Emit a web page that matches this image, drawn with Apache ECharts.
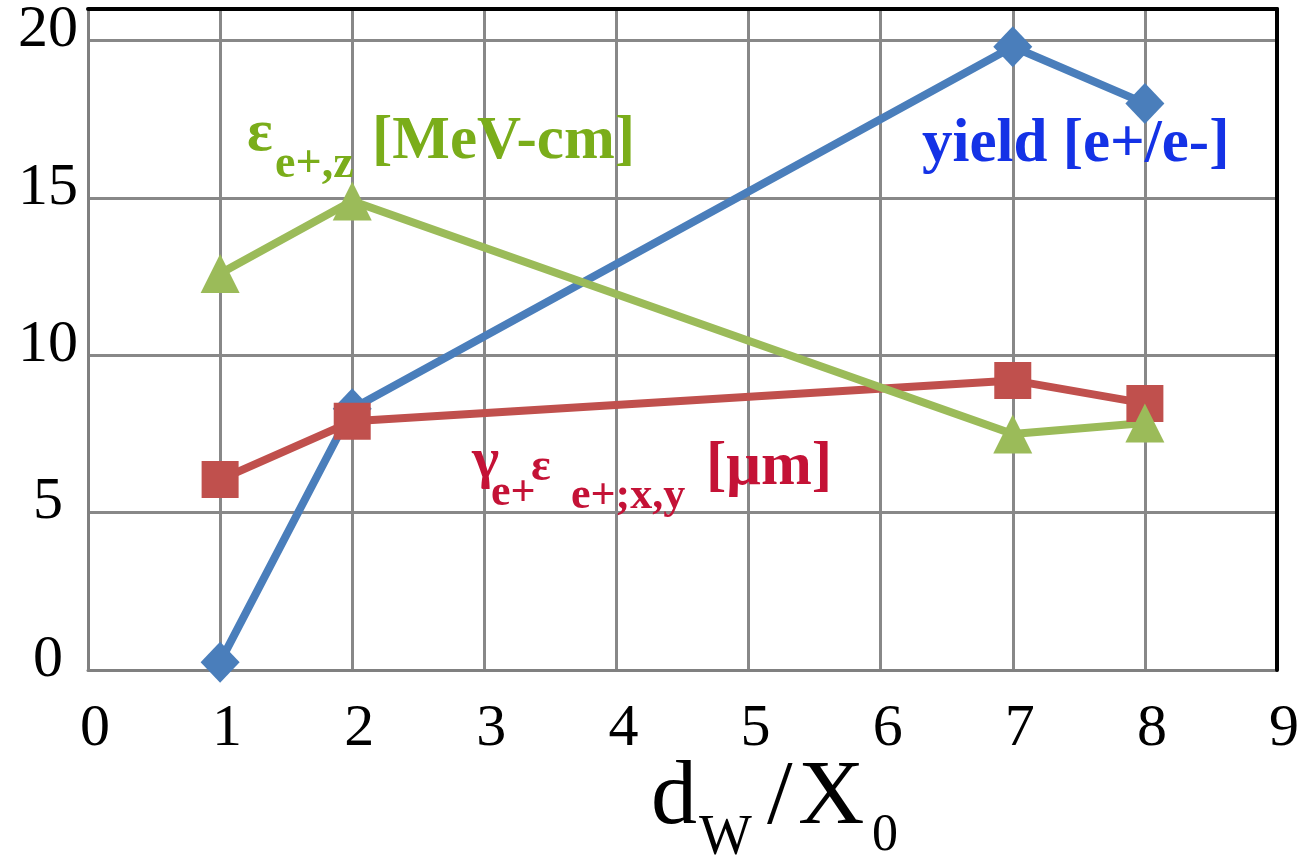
<!DOCTYPE html>
<html>
<head>
<meta charset="utf-8">
<script src="https://cdn.jsdelivr.net/npm/echarts@6/dist/echarts.min.js"></script>
<style>
  html, body { margin: 0; padding: 0; background: #fff; }
  #chart { width: 1302px; height: 861px; }
</style>
</head>
<body>
<div id="chart"></div>
<script>
// thickness d_W / X_0
var xVals = [1, 2, 7, 8];
// yield [e+/e-]
var yieldVals = [0.25, 8.3, 19.8, 18.0];
// gamma*eps e+;x,y [um]
var emitXY = [6.05, 7.9, 9.2, 8.47];
// eps e+,z [MeV-cm]
var emitZ = [12.6, 14.9, 7.5, 7.85];

var serif = '"Liberation Serif", "Times New Roman", serif';

function pairs (ys) {
  return xVals.map(function (x, i) { return [x, ys[i]] })
}

// text piece placed by its left edge and baseline
function txt (str, left, baseline, size, color, bold) {
  return {
    type: 'text',
    x: left,
    y: baseline - 0.32 * size,
    z: 20,
    style: {
      text: str,
      font: (bold ? 'bold ' : '') + size + 'px ' + serif,
      fill: color,
      align: 'left',
      verticalAlign: 'middle'
    }
  }
}

var chart = echarts.init(document.getElementById('chart'))

var greenTxt = '#7aad1a'
var blueTxt = '#1432e6'
var redTxt = '#c41236'

var option = {
  backgroundColor: '#fff',
  animation: false,
  grid: { left: 88, right: 22, top: 9, bottom: 191 },
  xAxis: [
    {
      type: 'value',
      min: 0,
      max: 9,
      interval: 1,
      axisLine: { show: true, lineStyle: { color: '#808080', width: 3 } },
      axisTick: { show: false },
      axisLabel: {
        fontFamily: serif,
        fontSize: 60,
        color: '#000',
        margin: 29,
        padding: [0, 0, 0, 14]
      },
      splitLine: { show: true, showMaxLine: false, lineStyle: { color: '#888', width: 3 } }
    },
    {
      type: 'value',
      position: 'top',
      min: 0,
      max: 9,
      z: 10,
      axisLine: { show: true, onZero: false, lineStyle: { color: '#000', width: 4 } },
      axisTick: { show: false },
      axisLabel: { show: false },
      splitLine: { show: false }
    }
  ],
  yAxis: [
    {
      type: 'value',
      min: 0,
      max: 21,
      interval: 5,
      axisLine: { show: true, lineStyle: { color: '#808080', width: 3 } },
      axisTick: { show: false },
      axisLabel: {
        fontFamily: serif,
        fontSize: 60,
        color: '#000',
        align: 'center',
        verticalAlign: 'bottom',
        lineHeight: 20,
        margin: 40,
        showMaxLabel: false
      },
      splitLine: { show: true, showMaxLine: false, lineStyle: { color: '#888', width: 3 } }
    },
    {
      type: 'value',
      position: 'right',
      min: 0,
      max: 21,
      z: 10,
      axisLine: { show: true, onZero: false, lineStyle: { color: '#000', width: 4 } },
      axisTick: { show: false },
      axisLabel: { show: false },
      splitLine: { show: false }
    }
  ],
  series: [
    {
      name: 'yield',
      type: 'line',
      data: pairs(yieldVals),
      symbol: 'diamond',
      symbolSize: [39, 41],
      lineStyle: { color: '#4a7ebb', width: 8 },
      itemStyle: { color: '#4a7ebb' }
    },
    {
      name: 'emitXY',
      type: 'line',
      data: pairs(emitXY),
      symbol: 'rect',
      symbolSize: 37,
      lineStyle: { color: '#c0504d', width: 8 },
      itemStyle: { color: '#c0504d' }
    },
    {
      name: 'emitZ',
      type: 'line',
      data: pairs(emitZ),
      symbol: 'triangle',
      symbolSize: [39, 39],
      lineStyle: { color: '#9bbb59', width: 8 },
      itemStyle: { color: '#9bbb59' }
    }
  ],
  graphic: [
    // green label
    txt('ε', 247, 154, 60, greenTxt, true),
    txt('e+,z', 275, 180, 46, greenTxt, true),
    txt('[MeV-cm]', 372, 162, 61, greenTxt, true),
    // blue label
    txt('yield [e+/e-]', 922, 165, 61, blueTxt, true),
    // red label
    txt('γ', 472, 481, 58, redTxt, true),
    txt('e+', 491, 508, 44, redTxt, true),
    txt('ε', 531, 483, 46, redTxt, true),
    txt('e+;x,y', 571, 511, 44, redTxt, true),
    txt('[μm]', 706, 488, 61, redTxt, true),
    // axis title
    txt('d', 651, 828, 92, '#000', false),
    txt('W', 699, 857, 56, '#000', false),
    txt('/', 767, 828, 92, '#000', false),
    txt('X', 798, 828, 92, '#000', false),
    txt('0', 872, 853, 52, '#000', false)
  ]
}

option && chart.setOption(option)
</script>
</body>
</html>
